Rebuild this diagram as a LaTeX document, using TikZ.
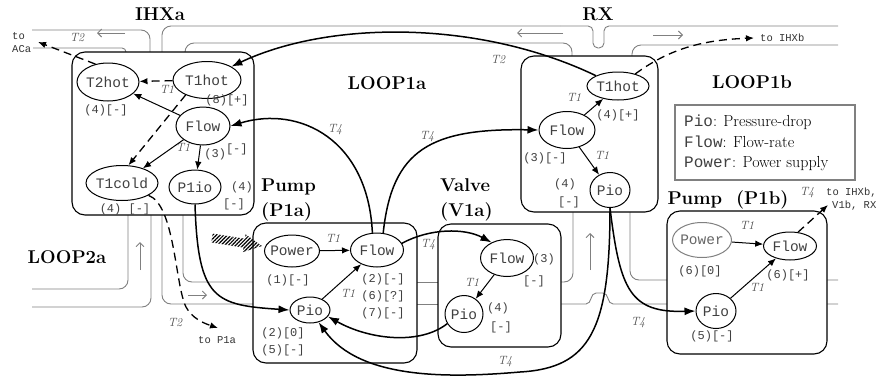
\documentclass[tikz,border=0pt]{standalone}
\usepackage{fontspec}
\setmonofont{Liberation Mono}
\usetikzlibrary{arrows.meta,shapes.geometric,patterns.meta}

\begin{document}
\begin{tikzpicture}[x=1pt,y=-1pt,
  pipe/.style={gray,line width=0.9pt,rounded corners=9pt},
  pipedir/.style={gray,line width=0.9pt,-{Straight Barb[length=4pt,width=8pt]}},
  unit/.style={draw,line width=1.1pt,fill=white,rounded corners=13pt},
  var/.style={ellipse,draw,line width=1pt,inner xsep=-5pt,inner ysep=0pt,text=black!75,font=\fontsize{14.5}{15}\ttfamily},
  cnt/.style={font=\fontsize{12}{17}\ttfamily,text=black!75,inner sep=0pt,align=left},
  tag/.style={font=\fontsize{12}{12}\itshape,text=gray!60!black,inner sep=0pt},
  dest/.style={font=\fontsize{10.5}{13}\ttfamily,text=black!80,inner sep=0pt,align=left},
  title/.style={font=\fontsize{18.5}{25}\bfseries,inner sep=0pt,align=left},
  infl/.style={-{Latex[length=8pt,width=6.5pt]},line width=1pt},
  link/.style={-{Latex[length=11pt,width=8pt]},line width=1.5pt},
  hint/.style={line width=1.3pt,dash pattern=on 8pt off 5pt}
]
\useasboundingbox (0,0) rectangle (877,378);

% pipes of the loops
\draw[pipe] (32,30) -- (150,30) -- (150,62);
\draw[pipe,rounded corners=4pt] (33,48) -- (126,48) -- (126,62);
\draw[pipe] (162,62) -- (162,26) -- (560,26);
\draw[pipe,rounded corners=5pt] (560,26) -- (593,26) -- (593,48) -- (604,48) -- (604,26) -- (838,26);
\draw[pipe] (185,62) -- (185,43) -- (572,43) -- (572,66);
\draw[pipe] (632,66) -- (632,45) -- (838,45);
\draw[pipe] (128,205) -- (128,289) -- (32,289);
\draw[pipe] (151,205) -- (151,307) -- (32,307);
\draw[pipe] (162,205) -- (162,304) -- (262,304);
\draw[pipe] (183,205) -- (183,282) -- (262,282);
\draw[pipe] (410,282) -- (446,282);
\draw[pipe] (410,304) -- (446,304);
\draw[pipe] (555,282) -- (573,282) -- (573,205);
\draw[pipe] (630,205) -- (630,280) -- (838,280);
\draw[pipe,rounded corners=0pt] (555,304) -- (586,304) .. controls (592,304) and (590,293) .. (596,293)
  -- (603,293) .. controls (609,293) and (607,304) .. (613,304) -- (838,304);
\draw[pipedir] (125,33) -- (97,33);
\draw[pipedir] (563,33) -- (517,33);
\draw[pipedir] (653,35) -- (683,35);
\draw[pipedir] (140,270) -- (140,242);
\draw[pipedir] (188,295) -- (207,295);
\draw[pipedir] (590,270) -- (590,233);

% components
\draw[unit] (72,52) rectangle (254,215);
\draw[unit] (521,56) rectangle (658,212);
\draw[unit] (253,223) rectangle (417,363);
\draw[unit] (438,224) rectangle (561,347);
\draw[unit] (667,211) rectangle (827,354);
\draw[gray,line width=1.2pt] (675,105) rectangle (855,180);

\node[title] (tIHXa) at (160,14) {IHXa};
\node[title] (tRX) at (598,14) {RX};
\node[title] (tLoopOneA) at (387,83) {LOOP1a};
\node[title] (tLoopOneB) at (752,82) {LOOP1b};
\node[title] (tLoopTwoA) at (67,257) {LOOP2a};
\node[title,anchor=west] (tPumpA) at (261,200) {Pump\\(P1a)};
\node[title,anchor=west] (tValveA) at (440,200) {Valve\\(V1a)};
\node[title] (tPumpB) at (728,200) {Pump\ \ (P1b)};
\node[anchor=west,align=left,inner sep=0pt,font=\fontsize{16}{20.5}\selectfont] (legend) at (684,143)
  {\textcolor{black!75}{\texttt{Pio}}: Pressure-drop\\\textcolor{black!75}{\texttt{Flow}}: Flow-rate\\\textcolor{black!75}{\texttt{Power}}: Power supply};

% variables
\node[var,minimum width=62pt,minimum height=38pt] (ihxT2hot) at (108,82) {T2hot};
\node[var,minimum width=68pt,minimum height=37pt] (ihxT1hot) at (207,80) {T1hot};
\node[var,minimum width=54pt,minimum height=38pt] (ihxFlow) at (203,126) {Flow};
\node[var,minimum width=72pt,minimum height=35pt] (ihxT1cold) at (122,183) {T1cold};
\node[var,minimum width=52pt,minimum height=34pt] (ihxP1io) at (195,187) {P1io};
\node[var,minimum width=55pt,minimum height=32pt] (paPower) at (292,251) {Power};
\node[var,minimum width=53pt,minimum height=34pt] (paFlow) at (377,250) {Flow};
\node[var,minimum width=40pt,minimum height=26pt] (paPio) at (310,310) {Pio};
\node[var,minimum width=53pt,minimum height=37pt] (vFlow) at (507,258) {Flow};
\node[var,minimum width=38pt,minimum height=37pt] (vPio) at (464,314) {Pio};
\node[var,minimum width=62pt,minimum height=28pt] (rxT1hot) at (618,86) {T1hot};
\node[var,minimum width=56pt,minimum height=37pt] (rxFlow) at (567,130) {Flow};
\node[var,minimum width=40pt,minimum height=35pt] (rxPio) at (610,190) {Pio};
\node[var,draw=gray,text=gray!80!black,minimum width=59pt,minimum height=35pt] (pbPower) at (702,240) {Power};
\node[var,minimum width=53pt,minimum height=28pt] (pbFlow) at (790,246) {Flow};
\node[var,minimum width=40pt,minimum height=35pt] (pbPio) at (716,311) {Pio};

\coordinate (toACa) at (38,42);
\coordinate (toPoneA) at (218,328);
\coordinate (toIHXb) at (754,38);
\coordinate (toOthers) at (828,205);

% counts and signs
\node[cnt] (cIhxT1hot) at (227,100) {(8)[+]};
\node[cnt] (cIhxT2hot) at (106,110) {(4)[-]};
\node[cnt] (cIhxFlow) at (226,152) {(3)\raisebox{5pt}{[-]}};
\node[cnt] (cIhxPioA) at (242,187) {(4)};
\node[cnt] (cIhxPioB) at (234,204) {[-]};
\node[cnt] (cIhxT1cold) at (125,209) {(4) [-]};
\node[cnt] (cPaPower) at (288,280) {(1)[-]};
\node[cnt] (cPaFlow) at (383,296) {(2)[-]\\(6)[?]\\(7)[-]};
\node[cnt] (cPaPio) at (283,342) {(2)[0]\\(5)[-]};
\node[cnt] (cVFlowA) at (544,259) {(3)};
\node[cnt] (cVFlowB) at (534,281) {[-]};
\node[cnt] (cVPioA) at (498,308) {(4)};
\node[cnt] (cVPioB) at (501,327) {[-]};
\node[cnt] (cRxT1hot) at (618,115) {(4)[+]};
\node[cnt] (cRxFlow) at (545,158) {(3)[-]};
\node[cnt] (cRxPioA) at (565,184) {(4)};
\node[cnt] (cRxPioB) at (569,202) {[-]};
\node[cnt] (cPbPower) at (700,271) {(6)[0]};
\node[cnt] (cPbFlow) at (788,275) {(6)[+]};
\node[cnt] (cPbPio) at (712,336) {(5)[-]};

% time tags
\node[tag] (gIhxA) at (167,89) {T1};
\node[tag] (gIhxB) at (183,147) {T1};
\node[tag] (gACa) at (77,38) {T2};
\node[tag] (gPoneA) at (175,323) {T2};
\node[tag] (gPaA) at (333,238) {T1};
\node[tag] (gPaB) at (348,293) {T1};
\node[tag] (gPaV) at (428,245) {T4};
\node[tag] (gPaIhx) at (335,130) {T4};
\node[tag] (gPaRx) at (427,137) {T4};
\node[tag] (gVA) at (472,282) {T1};
\node[tag] (gRxPa) at (505,362) {T4};
\node[tag] (gRxA) at (574,97) {T1};
\node[tag] (gRxB) at (602,155) {T1};
\node[tag] (gRxIhx) at (498,60) {T2};
\node[tag] (gPbA) at (747,225) {T1};
\node[tag] (gPbB) at (757,287) {T1};
\node[tag] (gPbOut) at (807,193) {T4};
\node[tag] (gRxPb) at (638,323) {T4};

\node[dest,anchor=west] (lACa) at (12,43) {to\\ACa};
\node[dest,anchor=west] (lPoneA) at (198,340) {to P1a};
\node[dest,anchor=west] (lIHXb) at (760,38) {to IHXb};
\node[dest,anchor=west] (lOthers) at (826,199) {to IHXb,\\\hspace*{6pt}V1b, RX};

% power supply
\fill[pattern={Lines[angle=45,distance=2.6pt,line width=1.2pt]}]
  (212.7,233.6) -- (244.9,238.7) -- (245.6,234.3) -- (262,246) -- (242.8,252.1) -- (243.5,247.6) -- (211.3,242.4) -- cycle;

% influences inside components
\path[infl]
(ihxFlow) edge (ihxT2hot) edge (ihxT1cold) edge (ihxP1io)
(paPower) edge (paFlow)
(paPio) edge (paFlow)
(vFlow) edge (vPio)
(rxFlow) edge (rxT1hot) edge (rxPio)
(pbPower) edge (pbFlow)
(pbPio) edge (pbFlow)
;
\path[infl,hint]
(ihxT1hot) edge (ihxT2hot)
(ihxT1hot.215) edge (ihxT1cold.70)
;
\draw[infl,hint] (ihxT2hot.125) -- (toACa);
\draw[infl,hint] (pbFlow.60) -- (toOthers);
\draw[infl,hint] (rxT1hot.35) .. controls (668,50) and (700,40) .. (toIHXb);
\draw[infl,hint] (ihxT1cold.-25) .. controls (175,205) and (175,285) .. (186,307) .. controls (192,318) and (203,323) .. (toPoneA);

% influences between components
\draw[link] (rxT1hot.155) .. controls (480,20) and (330,20) .. (ihxT1hot.north east);
\draw[link] (paFlow.105) .. controls (368,140) and (300,105) .. (ihxFlow.east);
\draw[link] (paFlow.70) .. controls (392,150) and (430,128) .. (rxFlow.west);
\draw[link] (paFlow.15) .. controls (430,228) and (465,228) .. (vFlow.135);
\draw[link] (vPio.210) .. controls (420,345) and (370,340) .. (paPio.-20);
\draw[link] (ihxP1io.south) .. controls (198,300) and (215,305) .. (paPio.west);
\draw[link] (rxPio.south) .. controls (610,330) and (590,368) .. (520,372) .. controls (450,378) and (360,380) .. (paPio.-55);
\draw[link] (rxPio.south) .. controls (620,290) and (630,313) .. (pbPio.west);
\end{tikzpicture}
\end{document}
